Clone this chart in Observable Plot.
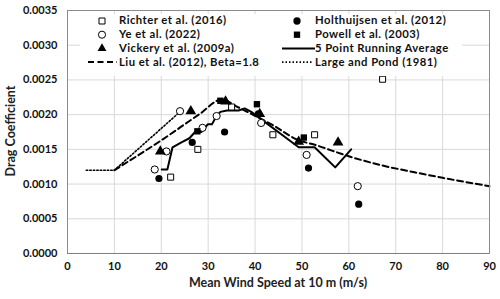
<!DOCTYPE html>
<html>
<head>
<meta charset="utf-8">
<script src="https://cdn.jsdelivr.net/npm/d3@7"></script>
<script src="https://cdn.jsdelivr.net/npm/@observablehq/plot@0.6"></script>
<style>
  html, body { margin: 0; padding: 0; background: #fff; }
  #chart { width: 500px; height: 299px; }
  svg { font-family: Lato, "Open Sans", sans-serif; }
</style>
</head>
<body>
<div id="chart"></div>
<script>
// ---- data (wind speed m/s, drag coefficient) ----
const richterU = [22.0, 27.8, 35.0, 43.8, 52.7, 67.2];
const richterCd = [0.00110, 0.00150, 0.00211, 0.00171, 0.00171, 0.00251];

const yeU = [18.6, 21.1, 24.0, 28.8, 31.8, 41.3, 51.0, 61.9];
const yeCd = [0.00121, 0.00147, 0.00205, 0.00181, 0.00198, 0.00188, 0.00142, 0.00097];

const vickeryU = [19.8, 26.3, 33.7, 41.0, 49.3, 57.7];
const vickeryCd = [0.00147, 0.00205, 0.00219, 0.00201, 0.00161, 0.00160];

const holtU = [19.5, 26.6, 33.5, 40.7, 51.4, 62.1];
const holtCd = [0.00108, 0.00160, 0.00175, 0.00201, 0.00123, 0.00071];

const powellU = [27.7, 32.6, 40.4, 50.4];
const powellCd = [0.00176, 0.00220, 0.00215, 0.00167];

const avgU = [20.1, 21.3, 22.4, 24.3, 26.0, 27.2, 28.6, 29.9, 30.8, 31.6, 32.6, 34.0, 36.5, 37.8, 39.2, 49.3, 52.7, 57.1, 60.5];
const avgCd = [0.00121, 0.00121, 0.00153, 0.00160, 0.00166, 0.00175, 0.00175, 0.00186, 0.00186, 0.00196, 0.00204, 0.00206, 0.00206, 0.00209, 0.00204, 0.00153, 0.00153, 0.00124, 0.00150];

const liuU = [10, 20, 28, 33, 36, 44, 49, 53, 60, 67, 74, 80, 90];
const liuCd = [0.00120, 0.00163, 0.00200, 0.00222, 0.00212, 0.00184, 0.00164, 0.00156, 0.00140, 0.00127, 0.00117, 0.00109, 0.00097];

const lpU = [4, 10, 24.3];
const lpCd = [0.00120, 0.00120, 0.00206];

const xTicks = [0, 10, 20, 30, 40, 50, 60, 70, 80, 90];
const yTicks = [0, 0.0005, 0.0010, 0.0015, 0.0020, 0.0025, 0.0030, 0.0035];

const legendCol1 = ["Richter et al. (2016)", "Ye et al. (2022)", "Vickery et al. (2009a)", "Liu et al. (2012), Beta=1.8"];
const legendCol2 = ["Holthuijsen et al. (2012)", "Powell et al. (2003)", "5 Point Running Average", "Large and Pond (1981)"];

const zip = (u, c) => u.map((v, i) => ({u: v, cd: c[i]}));

const chart = Plot.plot({
  width: 500,
  height: 299,
  marginLeft: 67,
  marginRight: 11,
  marginTop: 10,
  marginBottom: 46,
  style: {fontFamily: "Lato, 'Open Sans', sans-serif", background: "#fff"},
  x: {domain: [0, 90]},
  y: {domain: [0, 0.0035]},
  marks: [
    Plot.gridX(xTicks, {stroke: "#d9d9d9", strokeOpacity: 1, strokeWidth: 1}),
    Plot.gridY(yTicks, {stroke: "#d9d9d9", strokeOpacity: 1, strokeWidth: 1}),
    Plot.line(zip(lpU, lpCd), {x: "u", y: "cd", stroke: "#000", strokeWidth: 1.6, strokeDasharray: "1.5,2"}),
    Plot.line(zip(liuU, liuCd), {x: "u", y: "cd", stroke: "#000", strokeWidth: 2, strokeDasharray: "6,3.5", curve: "monotone-x"}),
    Plot.line(zip(avgU, avgCd), {x: "u", y: "cd", stroke: "#000", strokeWidth: 2}),
    Plot.dot(zip(richterU, richterCd), {x: "u", y: "cd", symbol: "square", r: 3.4, fill: "#fff", stroke: "#000", strokeWidth: 1}),
    Plot.dot(zip(yeU, yeCd), {x: "u", y: "cd", symbol: "circle", r: 3.6, fill: "#fff", stroke: "#000", strokeWidth: 1}),
    Plot.dot(zip(vickeryU, vickeryCd), {x: "u", y: "cd", symbol: "triangle", r: 4, fill: "#000", stroke: "none"}),
    Plot.dot(zip(holtU, holtCd), {x: "u", y: "cd", symbol: "circle", r: 3.6, fill: "#000", stroke: "none"}),
    Plot.dot(zip(powellU, powellCd), {x: "u", y: "cd", symbol: "square", r: 3.6, fill: "#000", stroke: "none"}),
    Plot.frame({stroke: "#8c8c8c", strokeWidth: 1}),
    Plot.ruleY([0], {stroke: "#7f7f7f", strokeWidth: 1}),
    Plot.axisX({ticks: xTicks, tickSize: 0, tickPadding: 9, label: null, fontSize: 11, fontWeight: "bold", fill: "#111"}),
    Plot.axisY({ticks: yTicks, tickSize: 0, tickPadding: 10, label: null, tickFormat: d => d.toFixed(4), fontSize: 11, fontWeight: "bold", fill: "#111"})
  ]
});

document.getElementById("chart").appendChild(chart);

// axis titles and legend
const svg = d3.select(chart);
svg.append("text")
  .attr("x", 278).attr("y", 287)
  .attr("text-anchor", "middle")
  .attr("font-size", 12.5).attr("font-weight", "bold").attr("fill", "#222")
  .text("Mean Wind Speed at 10 m (m/s)");
svg.append("text")
  .attr("transform", "translate(15,131) rotate(-90)")
  .attr("text-anchor", "middle")
  .attr("font-size", 12.5).attr("font-weight", "bold").attr("fill", "#222")
  .text("Drag Coefficient");

const lg = svg.append("g").attr("text-anchor", "start");
lg.append("rect").attr("x", 80).attr("y", 14).attr("width", 382).attr("height", 62).attr("fill", "#fff");
const rowsY = [21, 34.7, 48.4, 62.1];
const textStyle = sel => sel.attr("font-size", 11.3).attr("font-weight", "bold").attr("fill", "#111")
  .attr("letter-spacing", 0.45)
  .attr("text-anchor", "start").attr("dominant-baseline", "middle");
const sym = (type, size) => d3.symbol().type(type).size(size)();
// column 1
lg.append("path").attr("d", sym(d3.symbolSquare, 36)).attr("transform", `translate(102,${rowsY[0]})`).attr("fill", "#fff").attr("stroke", "#000");
lg.append("path").attr("d", sym(d3.symbolCircle, 40)).attr("transform", `translate(102,${rowsY[1]})`).attr("fill", "#fff").attr("stroke", "#000");
lg.append("path").attr("d", sym(d3.symbolTriangle, 34)).attr("transform", `translate(102,${rowsY[2]})`).attr("fill", "#000");
lg.append("line").attr("x1", 88).attr("x2", 117).attr("y1", rowsY[3]).attr("y2", rowsY[3]).attr("stroke", "#000").attr("stroke-width", 2).attr("stroke-dasharray", "6,3.5");
legendCol1.forEach((t, i) => textStyle(lg.append("text").attr("x", 119).attr("y", rowsY[i] + 0.5).text(t)));
// column 2
lg.append("path").attr("d", sym(d3.symbolCircle, 42)).attr("transform", `translate(297,${rowsY[0]})`).attr("fill", "#000");
lg.append("path").attr("d", sym(d3.symbolSquare, 40)).attr("transform", `translate(297,${rowsY[1]})`).attr("fill", "#000");
lg.append("line").attr("x1", 282).attr("x2", 315).attr("y1", rowsY[2]).attr("y2", rowsY[2]).attr("stroke", "#000").attr("stroke-width", 2);
lg.append("line").attr("x1", 282).attr("x2", 313).attr("y1", rowsY[3]).attr("y2", rowsY[3]).attr("stroke", "#000").attr("stroke-width", 1.6).attr("stroke-dasharray", "1.5,2");
legendCol2.forEach((t, i) => textStyle(lg.append("text").attr("x", 315).attr("y", rowsY[i] + 0.5).text(t)));
</script>
</body>
</html>
